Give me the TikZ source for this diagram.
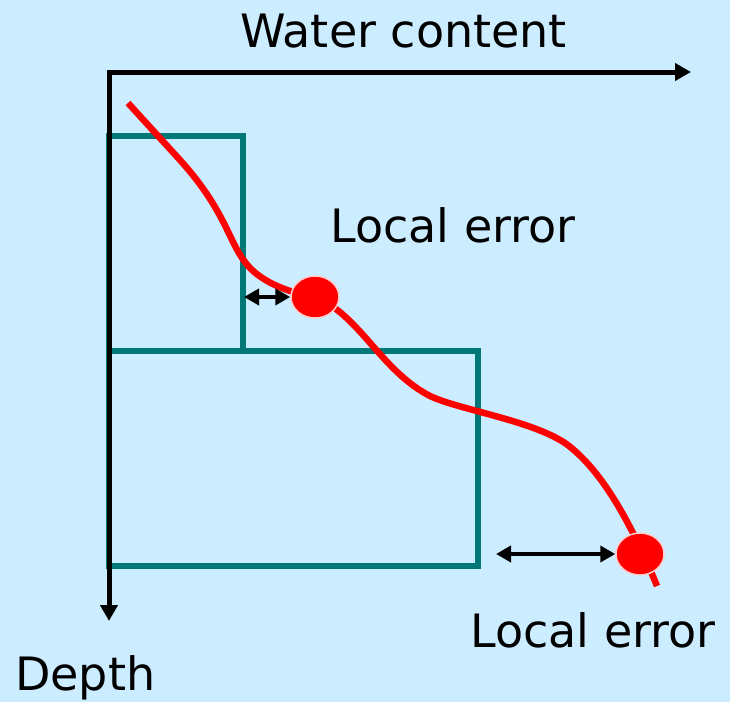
\documentclass[tikz,border=0pt]{standalone}
\usepackage{fontspec}
\setmainfont{DejaVu Sans}
\usetikzlibrary{arrows.meta,positioning,shapes.geometric}
\definecolor{skyback}{RGB}{204,236,255}
\definecolor{layerteal}{RGB}{0,120,120}
\definecolor{profred}{RGB}{255,0,0}

\begin{document}
\begin{tikzpicture}[x=1pt,y=-1pt,
    axis/.style={line width=5pt, {Triangle[length=16pt,width=17pt]}-{Triangle[length=16pt,width=17pt]}},
    layer/.style={draw=layerteal, line width=5.5pt, outer sep=0pt, inner sep=0pt, anchor=north west},
    obs/.style={ellipse, fill=profred, draw=white!80!profred, line width=1.5pt,
                minimum width=48pt, minimum height=42pt, inner sep=0pt},
    gap/.style={line width=4pt, {Triangle[length=15pt,width=16pt]}-{Triangle[length=15pt,width=16pt]}},
    profile/.style={draw=profred, line width=6.5pt},
    lbl/.style={font=\fontsize{46}{52}\selectfont, anchor=base west, inner sep=0pt}]

  \fill[skyback] (0,0) rectangle (730,702);
  \useasboundingbox (0,0) rectangle (730,702);

  % soil layers
  \node[layer, minimum width=134pt, minimum height=215pt] (upper) at (109,136) {};
  \node[layer, minimum width=369pt, minimum height=215pt] (lower) at (109,351) {};

  % axes
  \coordinate (origin) at (109,72);
  \coordinate (depthend) at (109,621);
  \coordinate (waterend) at (691,72);
  \draw[axis] (depthend) -- (origin) -- (waterend);

  % measured profile
  \draw[profile] (128,103) -- (180,160)
    .. controls (225,210) and (228,240) .. (245,262)
    .. controls (258,280) and (285,292) .. (315,297)
    .. controls (360,315) and (380,370) .. (430,396)
    .. controls (460,410) and (530,420) .. (565,443)
    .. controls (600,468) and (630,520) .. (657,586);

  \node[obs] (dotA) at (315,297) {};
  \node[obs] (dotB) at (640,554) {};

  % errors
  \draw[gap] ([xshift=1pt]upper.east |- dotA) -- (dotA.west);
  \draw[gap] ([xshift=18pt]lower.east |- dotB) -- (dotB.west);

  % labels
  \node[lbl] (watertitle) at (240,47) {Water content};
  \node[lbl] (errA) at (330,242) {Local error};
  \node[lbl] (errB) at (470,647) {Local error};
  \node[lbl] (depthtitle) at (15,690) {Depth};
\end{tikzpicture}
\end{document}
